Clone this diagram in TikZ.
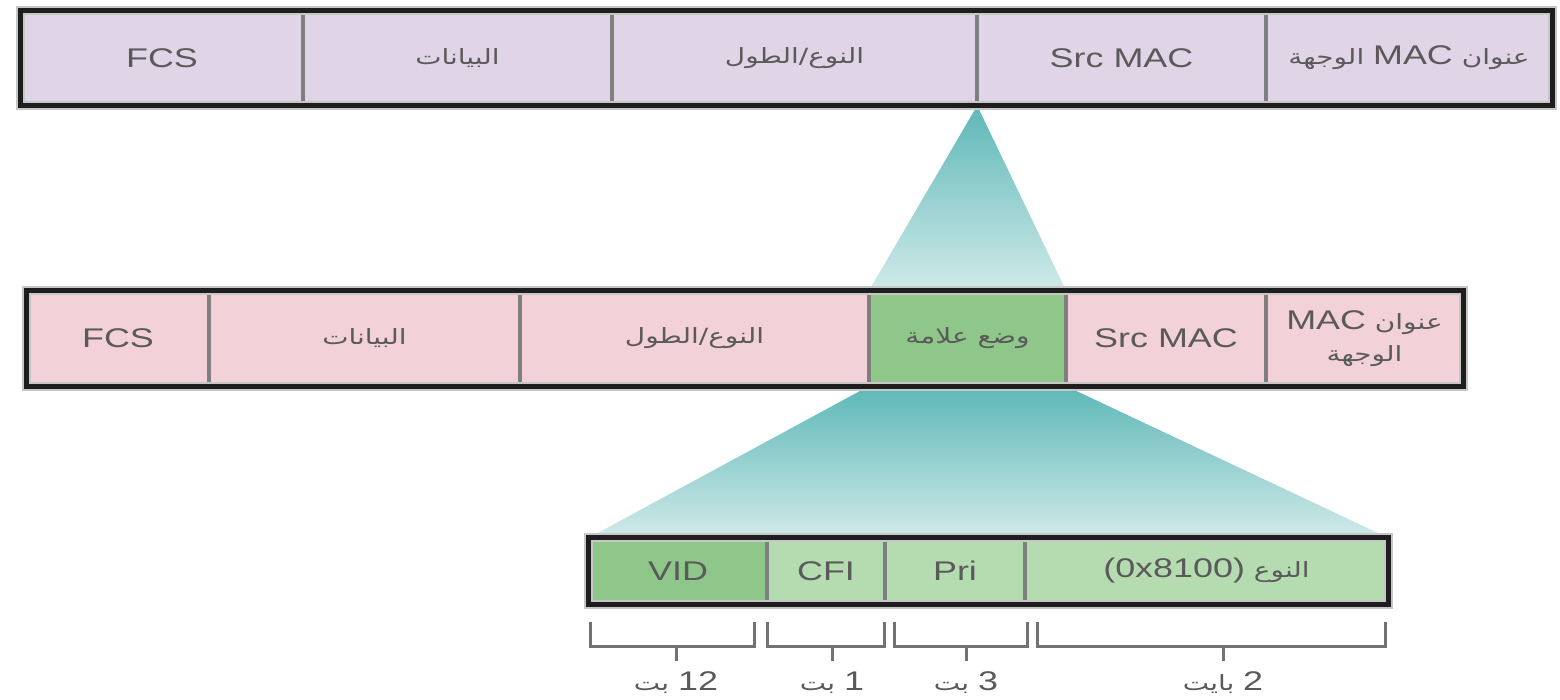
\documentclass[tikz,border=0pt]{standalone}
\usepackage{fontspec}
\usepackage{graphicx}
\setmainfont{Liberation Sans}
\newfontfamily\arabicfont[Script=Arabic]{DejaVu Sans}
\TeXXeTstate=1

\definecolor{lav}{HTML}{E0D5E6}
\definecolor{pinkc}{HTML}{F3D1D9}
\definecolor{gdark}{HTML}{8FC78B}
\definecolor{glight}{HTML}{B5DBB1}
\definecolor{txt}{HTML}{5A5A5A}
\definecolor{divc}{HTML}{7F7F7F}
\definecolor{framec}{HTML}{1E1E1E}
\definecolor{tealtop}{HTML}{5DB8B7}
\definecolor{tealbot}{HTML}{D0EAE9}

% text helpers: Latin and Arabic labels, slightly widened
\newcommand\latsize{\fontsize{27}{32}\selectfont}
\newcommand\arsize{\arabicfont\fontsize{21}{32}\selectfont}
\newcommand\wide[1]{\scalebox{1.33}[1]{#1}}
\newcommand\lat[1]{\wide{\latsize #1}}
\newcommand\ar[1]{\wide{\arsize\beginR #1\endR}}
\newcommand\num[1]{\beginL{\normalfont\latsize #1}\endL{}}

\tikzset{
  cellT/.style={inner sep=0pt, minimum height=95pt, text=txt, align=center, font=\latsize},
  cellB/.style={inner sep=0pt, minimum height=66pt, text=txt, align=center, font=\latsize},
  divider/.style={draw=divc, line width=3.5pt},
  frame/.style={draw=framec, line width=5pt},
  halo/.style={draw=black!22, line width=9pt},
  brk/.style={draw=divc!90!black, line width=3pt},
  lbl/.style={inner sep=0pt, text=txt},
  funnel/.style={top color=tealtop, bottom color=tealbot, draw=none}
}

\begin{document}
\begin{tikzpicture}[x=1pt,y=-1pt]
\useasboundingbox (0,0) rectangle (1560,699);

% ---- top frame ----
\node[cellT, fill=lav, minimum width=282pt] (t1) at (162,58) {\lat{FCS}};
\node[cellT, fill=lav, minimum width=309pt] (t2) at (457.5,58) {\ar{البيانات}};
\node[cellT, fill=lav, minimum width=365pt] (t3) at (794.5,58) {\ar{النوع/الطول}};
\node[cellT, fill=lav, minimum width=289pt] (t4) at (1121.5,58) {\lat{Src MAC}};
\node[cellT, fill=lav, minimum width=286pt] (t5) at (1409,58) {\ar{عنوان \num{MAC} الوجهة}};

% ---- tagged frame ----
\node[cellT, fill=pinkc, minimum width=182pt] (m1) at (118,338.5) {\lat{FCS}};
\node[cellT, fill=pinkc, minimum width=311pt] (m2) at (364.5,338.5) {\ar{البيانات}};
\node[cellT, fill=pinkc, minimum width=349pt] (m3) at (694.5,338.5) {\ar{النوع/الطول}};
\node[cellT, fill=gdark, minimum width=197pt] (m4) at (967.5,338.5) {\ar{وضع علامة}};
\node[cellT, fill=pinkc, minimum width=200pt] (m5) at (1166,338.5) {\lat{Src MAC}};
\node[cellT, fill=pinkc, minimum width=197pt] (m6) at (1364.5,338.5)
  {\ar{عنوان \num{MAC}}\\\ar{الوجهة}};

% ---- tag fields ----
\node[cellB, fill=gdark, minimum width=178pt] (b1) at (678,571) {\lat{VID}};
\node[cellB, fill=glight, minimum width=118pt] (b2) at (826,571) {\lat{CFI}};
\node[cellB, fill=glight, minimum width=140pt] (b3) at (955,571) {\lat{Pri}};
\node[cellB, fill=glight, minimum width=363pt] (b4) at (1206.5,571) {\ar{النوع \num{(0x8100)}}};

% ---- zoom funnels ----
\shade[funnel] (t3.south east) -- (m4.north east) -- (m4.north west) -- cycle;
\shade[funnel] (m4.south west) -- (m4.south east) -- (b4.north east) -- (b1.north west) -- cycle;

% ---- field dividers ----
\foreach \c in {t1,t2,t3,t4,m1,m2,m3,m4,m5,b1,b2,b3}
  \draw[divider] (\c.north east) -- (\c.south east);

% ---- outer frames ----
\draw[halo] (t1.north west) rectangle (t5.south east);
\draw[halo] (m1.north west) rectangle (m6.south east);
\draw[halo] (b1.north west) rectangle (b4.south east);
\draw[frame] (t1.north west) rectangle (t5.south east);
\draw[frame] (m1.north west) rectangle (m6.south east);
\draw[frame] (b1.north west) rectangle (b4.south east);

% ---- size brackets ----
\draw[brk] (590,622) -- (590,646) -- (754,646) -- (754,622);
\draw[brk] (767,622) -- (767,646) -- (884,646) -- (884,622);
\draw[brk] (894,622) -- (894,646) -- (1027,646) -- (1027,622);
\draw[brk] (1037,622) -- (1037,646) -- (1385,646) -- (1385,622);
\draw[brk] (676,646) -- (676,661);
\draw[brk] (832,646) -- (832,661);
\draw[brk] (966,646) -- (966,661);
\draw[brk] (1223,646) -- (1223,661);

\node[lbl] (s1) at (676,683) {\ar{\num{12} بت}};
\node[lbl] (s2) at (832,683) {\ar{\num{1} بت}};
\node[lbl] (s3) at (966,683) {\ar{\num{3} بت}};
\node[lbl] (s4) at (1223,683) {\ar{\num{2} بايت}};
\end{tikzpicture}
\end{document}
